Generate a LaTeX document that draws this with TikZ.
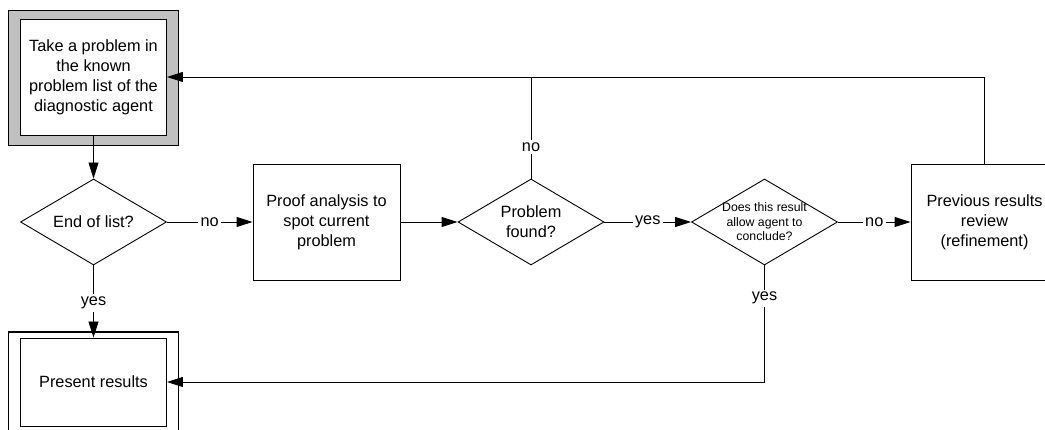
\documentclass[tikz,border=0pt]{standalone}
\usepackage{fontspec}
\setmainfont{Liberation Sans}
\usetikzlibrary{shapes.geometric,arrows.meta}
\newcommand\bigtxt{\fontsize{16.3}{20}\selectfont}
\newcommand\smalltxt{\fontsize{12.3}{14.5}\selectfont}
\definecolor{frame}{HTML}{C0C0C0}
\tikzset{
  box/.style={draw, rectangle, fill=white, inner sep=0pt, align=center, font=\bigtxt, line width=0.9pt},
  diam/.style={draw, diamond, fill=white, inner sep=0pt, minimum width=146pt, minimum height=86pt, line width=0.9pt},
  lbl/.style={fill=white, inner sep=2.5pt, font=\bigtxt},
  conn/.style={line width=0.9pt, -{Triangle[length=16pt,width=10pt]}},
  plain/.style={line width=0.9pt}
}
\begin{document}
\begin{tikzpicture}[x=1pt,y=-1pt]
\useasboundingbox (0,0) rectangle (1045,430);
% top box
\node[box, fill=frame, minimum width=170pt, minimum height=135pt] (topo) at (93.5,77.5) {};
\node[box, minimum width=146pt, minimum height=116pt] (topi) at (93.5,77) {Take a problem in\\the known\\problem list of the\\diagnostic agent};
% present results
\node[box, line width=1.4pt, minimum width=170pt, minimum height=104pt] (pro) at (93.5,384) {};
\node[box, minimum width=146pt, minimum height=88pt] (pri) at (93.5,382) {Present results};
% decisions
\node[diam] (el) at (93.5,222) {};
\node[font=\bigtxt, align=center] (elt) at (el.center) {End of list?};
\node[box, minimum width=147pt, minimum height=116pt] (pa) at (326.5,222) {Proof analysis to\\spot current\\problem};
\node[diam] (pf) at (531,222) {};
\node[font=\bigtxt, align=center] (pft) at (pf.center) {Problem\\found?};
\node[diam] (dc) at (764.5,222) {};
\node[font=\smalltxt, align=center] (dct) at (dc.center) {Does this result\\allow agent to\\conclude?};
\node[box, minimum width=147pt, minimum height=116pt] (rv) at (984.5,222) {Previous results\\review\\(refinement)};
% connectors
\draw[conn] (topi.south) -- (el.north);
\draw[conn] (el.east) -- node[lbl]{no} (pa.west);
\draw[conn] (el.south) -- node[lbl,pos=0.52]{yes} (pri.north);
\draw[conn] (pa.east) -- (pf.west);
\draw[conn] (pf.east) -- node[lbl]{yes} (dc.west);
\draw[conn] (dc.east) -- node[lbl]{no} (rv.west);
\draw[conn] (rv.north) |- (topi.east);
\draw[plain] (pf.north) -- node[lbl,pos=0.31]{no} (pf.north |- topi.east);
\draw[conn] (dc.south) -- node[lbl,pos=0.28]{yes} (dc.south |- pri.east) -- (pri.east);
\end{tikzpicture}
\end{document}
